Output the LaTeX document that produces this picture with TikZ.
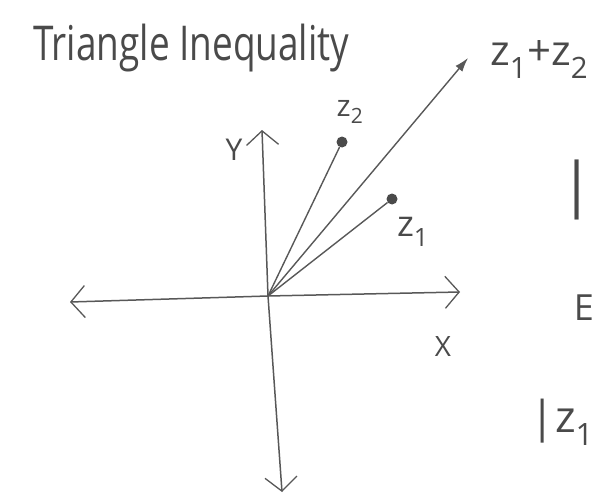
\documentclass[tikz,border=0pt]{standalone}
\usepackage{fontspec}
\setmainfont{Open Sans}
\usetikzlibrary{arrows.meta}
\definecolor{pencil}{HTML}{585858}
\definecolor{pencilink}{HTML}{4A4A4A}
\tikzset{
  axisline/.style={draw=pencil, line width=1.5pt, {Straight Barb[length=14pt,width=32pt,line width=1.3pt]}-{Straight Barb[length=14pt,width=32pt,line width=1.3pt]}},
  vecline/.style={draw=pencil, line width=1.4pt},
  tipdot/.style={circle, fill=pencilink, inner sep=0pt, minimum size=11pt},
  hand/.style={text=pencilink, inner sep=0pt, font=\fontsize{#1}{#1}\selectfont},
  hand/.default=24
}
\begin{document}
\begin{tikzpicture}[x=1pt,y=-1pt]
\useasboundingbox (0,0) rectangle (594,503);
% title
\node[hand=48, xscale=0.77, anchor=base west] (title) at (33,60) {Triangle Inequality};
% axes
\coordinate (O) at (268,296);
\coordinate (L) at (70,302);
\coordinate (R) at (460,292);
\coordinate (T) at (262,130);
\coordinate (B) at (282,492);
\draw[axisline] (L) -- (O) -- (R);
\draw[axisline] (T) -- (O) -- (B);
\node[hand=30] (ylab) at (234,150) {Y};
\node[hand=28] (xlab) at (443,347) {X};
% vectors
\node[tipdot] (z2) at (342,142) {};
\node[tipdot] (z1) at (392,199) {};
\coordinate (S) at (468,58);
\draw[vecline] (O) -- (z2);
\draw[vecline] (O) -- (z1);
\draw[vecline, -{Latex[length=14pt,width=9pt]}] (O) -- (S);
\node[hand=30] (lz2) at (350,112) {z\textsubscript{2}};
\node[hand=36] (lz1) at (413,232) {z\textsubscript{1}};
\node[hand=42, anchor=base west] (lsum) at (490,66) {z\textsubscript{1}+z\textsubscript{2}};
% text at the right edge
\node[hand=60, anchor=base east] (bar) at (594,205) {|};
\node[hand=36, anchor=base east] (E) at (594,320) {E};
\node[hand=44, anchor=base east] (abs) at (594,432) {|z\textsubscript{1}};
\end{tikzpicture}
\end{document}
